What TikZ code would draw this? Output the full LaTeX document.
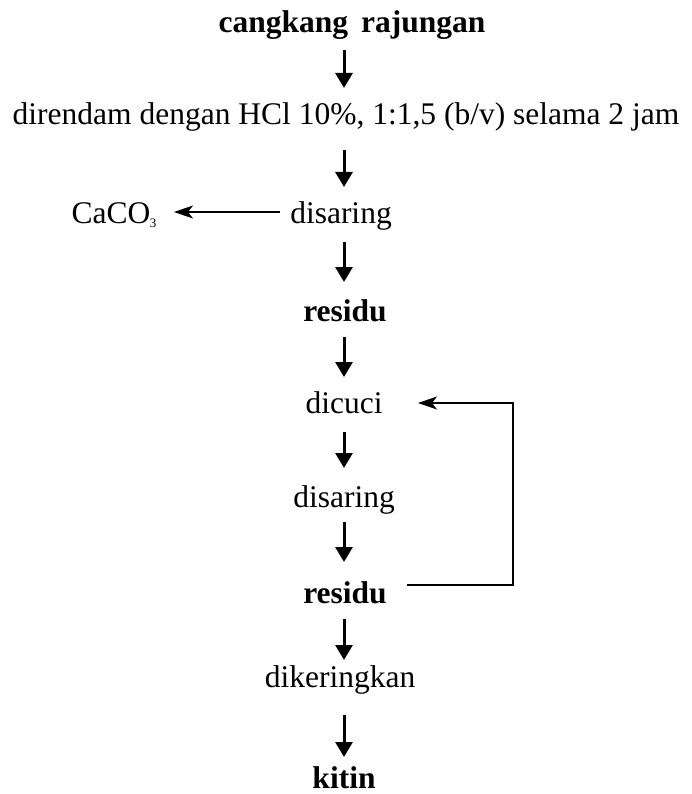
\documentclass[tikz,border=0pt]{standalone}
\usepackage{fontspec}
\setmainfont{Liberation Serif}
\usetikzlibrary{arrows.meta,calc}
\begin{document}
\begin{tikzpicture}[x=1pt,y=-1pt,
  txt/.style={anchor=base,inner sep=0pt,font=\fontsize{31.5}{36}\selectfont},
  btxt/.style={txt,font=\fontsize{31.5}{36}\selectfont\bfseries},
  flow/.style={line width=3pt,-{Triangle[length=15pt,width=17pt]}},
  thin/.style={line width=1.4pt,-{Stealth[length=19pt,width=13pt,inset=5pt]}}]
\useasboundingbox (0,0) rectangle (691,794);
\node[btxt] (n1) at (352,33) {cangkang\, rajungan};
\node[txt] (n2) at (346,125) {direndam dengan HCl 10\%, 1:1,5 (b/v) selama 2 jam};
\node[txt] (n3) at (341,223) {disaring};
\node[txt] (ca) at (114,223) {CaCO\kern-0.5pt\raisebox{-5pt}{\fontsize{13}{13}\selectfont 3}};
\node[btxt] (n4) at (345,321) {residu};
\node[txt] (n5) at (344,413) {dicuci};
\node[txt] (n6) at (344,507) {disaring};
\node[btxt] (n7) at (345,603) {residu};
\node[txt] (n8) at (340,687) {dikeringkan};
\node[btxt] (n9) at (344,788) {kitin};
\coordinate (ax) at (344,0);
\coordinate (lp) at (513,0);
% vertical flow arrows
\draw[flow] ($(n1.base -| ax)+(0,17)$) -- ($(n2.base -| ax)+(0,-37)$);
\draw[flow] ($(n2.base -| ax)+(0,25)$) -- ($(n3.base -| ax)+(0,-36)$);
\draw[flow] ($(n3.base -| ax)+(0,19)$) -- ($(n4.base -| ax)+(0,-39)$);
\draw[flow] ($(n4.base -| ax)+(0,16)$) -- ($(n5.base -| ax)+(0,-36)$);
\draw[flow] ($(n5.base -| ax)+(0,19)$) -- ($(n6.base -| ax)+(0,-39)$);
\draw[flow] ($(n6.base -| ax)+(0,15)$) -- ($(n7.base -| ax)+(0,-41)$);
\draw[flow] ($(n7.base -| ax)+(0,16)$) -- ($(n8.base -| ax)+(0,-27)$);
\draw[flow] ($(n8.base -| ax)+(0,28)$) -- ($(n9.base -| ax)+(0,-31)$);
% side arrow to CaCO3
\draw[thin] ($(n3.base)+(-61,-11)$) -- ($(ca.base)+(60,-11)$);
% recycle loop
\draw[thin] ($(n7.base)+(62,-18)$) -- ($(n7.base -| lp)+(0,-18)$) |- ($(n5.base)+(74,-10)$);
\end{tikzpicture}
\end{document}
